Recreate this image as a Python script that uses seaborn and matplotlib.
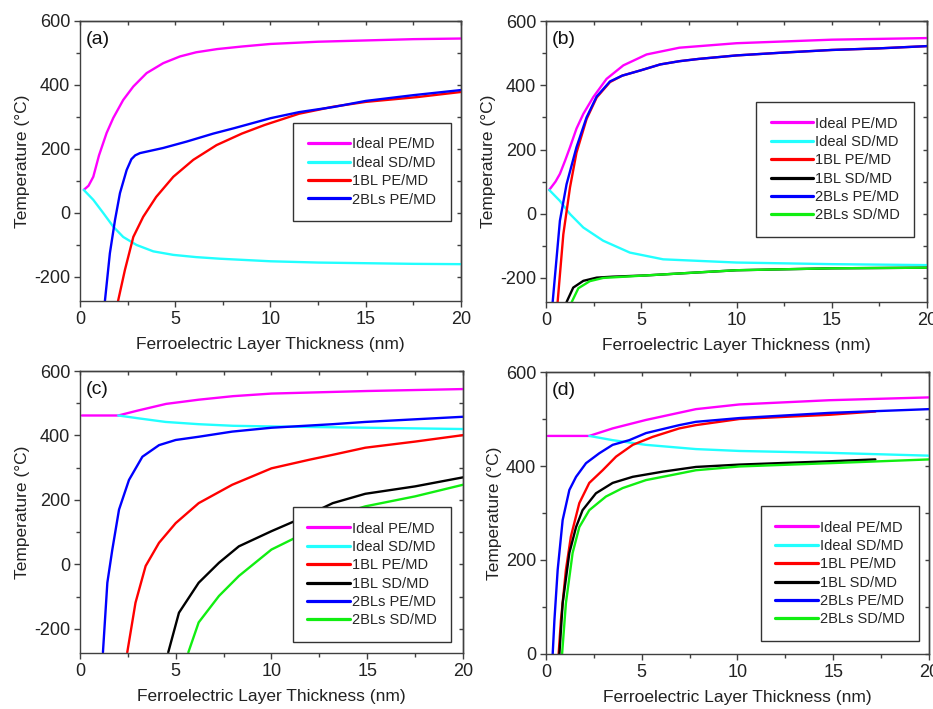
import numpy as np
import pandas as pd
import matplotlib.pyplot as plt
from matplotlib.ticker import MultipleLocator
import seaborn as sns

sns.set_theme(style="ticks")
plt.rcParams['font.family'] = ['Liberation Sans', 'DejaVu Sans']
plt.rcParams['axes.unicode_minus'] = False

labels = ['Ideal PE/MD', 'Ideal SD/MD', '1BL PE/MD', '1BL SD/MD', '2BLs PE/MD', '2BLs SD/MD']
colors = ['#ff00ff', '#22ffff', '#ff0000', '#000000', '#0000ff', '#11ee11']

# panel (a)
a_ideal_pe_x = [0.2, 0.45, 0.7, 1.0, 1.4, 1.75, 2.27, 2.8, 3.5, 4.37, 5.25, 6.1, 7.2, 8.5, 10.0, 12.5, 15.0, 17.5, 20.0]
a_ideal_pe_y = [72, 85, 113, 180, 250, 297, 353, 395, 437, 468, 489, 502, 512, 520, 528, 535, 539, 543, 545]
a_ideal_sd_x = [0.2, 0.7, 1.22, 1.75, 2.27, 2.97, 3.85, 4.9, 6.1, 7.35, 10.0, 12.5, 15.0, 17.5, 20.0]
a_ideal_sd_y = [72, 41, 0, -43, -75, -100, -120, -131, -138, -143, -151, -155, -157, -159, -160]
a_1bl_pe_x = [2.0, 2.36, 2.8, 3.32, 4.0, 4.9, 5.95, 7.17, 8.5, 9.7, 11.5, 13.3, 15.0, 17.7, 20.0]
a_1bl_pe_y = [-275, -178, -75, -12, 50, 113, 166, 212, 248, 275, 310, 332, 347, 362, 378]
a_2bls_pe_x = [1.31, 1.57, 1.84, 2.1, 2.45, 2.7, 2.9, 3.15, 4.37, 5.6, 7.0, 8.1, 10.0, 11.5, 13.3, 15.0, 17.5, 20.0]
a_2bls_pe_y = [-275, -126, -22, 62, 134, 168, 180, 187, 203, 223, 248, 265, 296, 315, 331, 350, 368, 384]

# panel (b)
b_ideal_pe_x = [0.17, 0.5, 0.73, 1.0, 1.26, 1.6, 1.96, 2.48, 3.18, 4.06, 5.28, 7.0, 10.0, 15.0, 20.0]
b_ideal_pe_y = [74, 100, 124, 165, 207, 265, 311, 363, 420, 462, 496, 517, 531, 542, 547]
b_ideal_sd_x = [0.17, 0.73, 1.26, 1.96, 3.0, 4.4, 6.15, 10.0, 15.0, 20.0]
b_ideal_sd_y = [74, 40, -1, -43, -84, -121, -142, -152, -157, -160]
b_1bl_pe_x = [0.61, 0.91, 1.26, 1.6, 2.13, 2.66, 3.36, 4.0, 5.0, 6.0, 7.0, 8.0, 10.0, 12.5, 15.0, 17.5, 20.0]
b_1bl_pe_y = [-275, -64, 82, 190, 295, 362, 410, 430, 447, 465, 475, 482, 493, 502, 510, 515, 522]
b_1bl_sd_x = [1.08, 1.43, 1.96, 2.66, 3.5, 5.28, 7.9, 10.0, 15.0, 20.0]
b_1bl_sd_y = [-275, -230, -209, -199, -196, -192, -183, -176, -170, -168]
b_2bls_pe_x = [0.35, 0.73, 1.08, 1.6, 2.13, 2.66, 3.36, 4.0, 5.0, 6.0, 7.0, 8.0, 10.0, 12.5, 15.0, 17.5, 20.0]
b_2bls_pe_y = [-275, -22, 92, 207, 300, 365, 412, 430, 447, 465, 475, 482, 493, 502, 510, 515, 522]
b_2bls_sd_x = [1.35, 1.7, 2.3, 3.0, 5.28, 7.9, 10.0, 15.0, 20.0]
b_2bls_sd_y = [-275, -232, -210, -200, -192, -183, -176, -170, -168]

# panel (c)
c_ideal_pe_x = [0.1, 2.0, 3.0, 4.5, 6.2, 8.0, 10.0, 15.0, 20.0]
c_ideal_pe_y = [462, 462, 477, 498, 511, 522, 530, 538, 544]
c_ideal_sd_x = [2.0, 3.08, 4.47, 6.2, 8.0, 10.0, 15.0, 20.0]
c_ideal_sd_y = [462, 453, 442, 435, 430, 428, 424, 420]
c_1bl_pe_x = [2.47, 2.9, 3.43, 4.13, 5.0, 6.2, 7.95, 10.0, 12.0, 13.2, 14.9, 17.5, 20.0]
c_1bl_pe_y = [-273, -119, -5, 67, 128, 190, 247, 298, 325, 340, 362, 381, 401]
c_1bl_sd_x = [4.61, 5.17, 6.2, 7.26, 8.3, 10.0, 11.4, 13.2, 14.9, 17.5, 20.0]
c_1bl_sd_y = [-273, -150, -57, 5, 56, 103, 139, 190, 219, 242, 270]
c_2bls_pe_x = [1.2, 1.43, 1.69, 2.04, 2.56, 3.26, 4.13, 5.0, 6.2, 7.95, 10.0, 13.2, 14.9, 20.0]
c_2bls_pe_y = [-273, -57, 46, 170, 262, 334, 370, 386, 396, 412, 424, 435, 442, 458]
c_2bls_sd_x = [5.66, 6.2, 7.26, 8.3, 10.0, 11.4, 13.2, 14.9, 17.5, 20.0]
c_2bls_sd_y = [-273, -180, -98, -36, 46, 87, 149, 180, 211, 247]

# panel (d)
d_ideal_pe_x = [0.1, 2.26, 3.48, 5.22, 7.83, 10.1, 14.8, 20.0]
d_ideal_pe_y = [464, 464, 480, 498, 521, 531, 540, 546]
d_ideal_sd_x = [2.26, 3.48, 5.22, 7.83, 10.1, 14.8, 20.0]
d_ideal_sd_y = [464, 455, 445, 436, 432, 428, 422]
d_1bl_pe_x = [0.66, 0.78, 1.04, 1.3, 1.74, 2.26, 2.96, 3.66, 4.53, 5.57, 6.96, 7.83, 10.1, 14.8, 17.2]
d_1bl_pe_y = [0, 72, 179, 250, 321, 364, 391, 420, 445, 462, 480, 487, 500, 509, 516]
d_1bl_sd_x = [0.7, 0.87, 1.22, 1.57, 1.91, 2.61, 3.48, 4.53, 6.1, 7.83, 10.1, 14.8, 17.2]
d_1bl_sd_y = [0, 108, 215, 270, 306, 342, 364, 377, 388, 398, 403, 410, 414]
d_2bls_pe_x = [0.35, 0.44, 0.61, 0.87, 1.22, 1.57, 2.09, 2.78, 3.48, 4.35, 5.22, 6.96, 7.83, 10.1, 14.8, 20.0]
d_2bls_pe_y = [0, 72, 179, 285, 349, 377, 406, 427, 445, 455, 470, 487, 494, 502, 513, 521]
d_2bls_sd_x = [0.84, 1.04, 1.39, 1.74, 2.26, 3.13, 4.0, 5.22, 6.6, 7.83, 10.1, 14.8, 20.0]
d_2bls_sd_y = [0, 108, 215, 270, 306, 335, 353, 370, 381, 391, 399, 406, 414]

panels = [
    ('(a)', [(0, a_ideal_pe_x, a_ideal_pe_y), (1, a_ideal_sd_x, a_ideal_sd_y),
             (2, a_1bl_pe_x, a_1bl_pe_y), (4, a_2bls_pe_x, a_2bls_pe_y)],
     (-275, 600), [0.0857, 0.5755, 0.4084, 0.395], (0.559, 0.636)),
    ('(b)', [(0, b_ideal_pe_x, b_ideal_pe_y), (1, b_ideal_sd_x, b_ideal_sd_y),
             (2, b_1bl_pe_x, b_1bl_pe_y), (3, b_1bl_sd_x, b_1bl_sd_y),
             (4, b_2bls_pe_x, b_2bls_pe_y), (5, b_2bls_sd_x, b_2bls_sd_y)],
     (-275, 600), [0.5852, 0.574, 0.4084, 0.3963], (0.551, 0.712)),
    ('(c)', [(0, c_ideal_pe_x, c_ideal_pe_y), (1, c_ideal_sd_x, c_ideal_sd_y),
             (2, c_1bl_pe_x, c_1bl_pe_y), (3, c_1bl_sd_x, c_1bl_sd_y),
             (4, c_2bls_pe_x, c_2bls_pe_y), (5, c_2bls_sd_x, c_2bls_sd_y)],
     (-275, 600), [0.0857, 0.079, 0.4105, 0.3977], (0.556, 0.518)),
    ('(d)', [(0, d_ideal_pe_x, d_ideal_pe_y), (1, d_ideal_sd_x, d_ideal_sd_y),
             (2, d_1bl_pe_x, d_1bl_pe_y), (3, d_1bl_sd_x, d_1bl_sd_y),
             (4, d_2bls_pe_x, d_2bls_pe_y), (5, d_2bls_sd_x, d_2bls_sd_y)],
     (0, 600), [0.5852, 0.0776, 0.4105, 0.3977], (0.561, 0.525)),
]

fig = plt.figure(figsize=(9.33, 7.09), dpi=100)
spine_col = '#404040'

for tag, series, ylim, rect, leg_pos in panels:
    ax = fig.add_axes(rect)
    for k, xs, ys in series:
        sns.lineplot(x=xs, y=ys, ax=ax, color=colors[k], label=labels[k],
                     linewidth=1.7, sort=False)
    ax.set_xlim(0, 20)
    ax.set_ylim(*ylim)
    ax.xaxis.set_major_locator(MultipleLocator(5))
    ax.xaxis.set_minor_locator(MultipleLocator(2.5))
    ax.yaxis.set_major_locator(MultipleLocator(200))
    ax.yaxis.set_minor_locator(MultipleLocator(100))
    ax.tick_params(which='major', direction='out', length=4, width=1, color=spine_col,
                   labelsize=13, labelcolor='#222222', pad=3)
    ax.tick_params(which='minor', direction='out', length=3, width=1, color=spine_col)
    for s in ax.spines.values():
        s.set_color(spine_col)
        s.set_linewidth(1)
    # inward mirror ticks on top and right
    top = ax.secondary_xaxis('top')
    top.xaxis.set_major_locator(MultipleLocator(5))
    top.xaxis.set_minor_locator(MultipleLocator(2.5))
    top.tick_params(which='both', direction='in', length=3, width=1, color=spine_col, labeltop=False)
    right = ax.secondary_yaxis('right')
    right.yaxis.set_major_locator(MultipleLocator(200))
    right.yaxis.set_minor_locator(MultipleLocator(100))
    right.tick_params(which='both', direction='in', length=3, width=1, color=spine_col, labelright=False)
    for sec in (top, right):
        for s in sec.spines.values():
            s.set_color(spine_col)
            s.set_linewidth(1)

    ax.set_xlabel('Ferroelectric Layer Thickness (nm)', fontsize=12.5, color='#222222', labelpad=7)
    ax.set_ylabel('Temperature (°C)', fontsize=12.5, color='#222222', labelpad=3)
    ax.text(0.016, 0.965, tag, transform=ax.transAxes, fontsize=14, va='top', ha='left',
            color='#111111')

    leg = ax.legend(loc='upper left', bbox_to_anchor=leg_pos, borderaxespad=0,
                    fontsize=10.5, frameon=True, fancybox=False, framealpha=1,
                    facecolor='white', edgecolor='#333333', handlelength=2.9,
                    handletextpad=0.15, borderpad=1.0, labelspacing=0.3)
    leg.get_frame().set_linewidth(1)
    for h in leg.get_lines():
        h.set_linewidth(2.3)

fig.savefig('out.png', dpi=100)
